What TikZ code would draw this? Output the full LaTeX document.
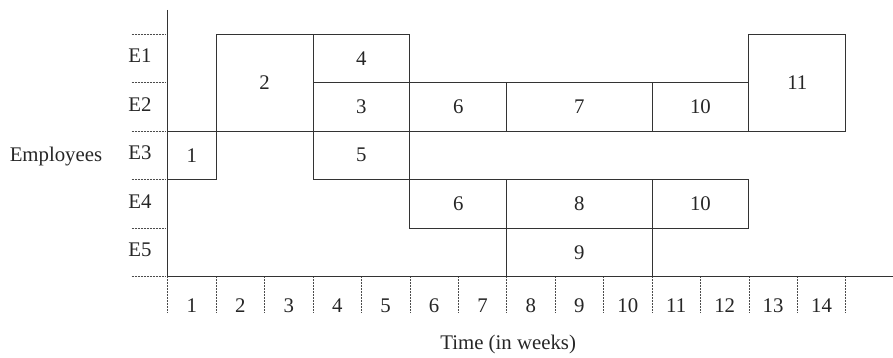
\documentclass[tikz,border=0pt]{standalone}
\usepackage{fontspec}
\setmainfont{Liberation Serif}
\begin{document}
\begin{tikzpicture}[x=1pt,y=-1pt,
  every node/.style={font=\fontsize{20.8}{24}\selectfont, text=black!85, inner sep=0pt},
  task/.style 2 args={draw=black!80, line width=0.9pt, minimum width=#1*48.43pt, minimum height=#2*48.5pt},
  axisline/.style={draw=black!80, line width=0.9pt},
  tickline/.style={draw=black!70, line width=0.7pt, dash pattern=on 0.7pt off 0.8pt}]
\useasboundingbox (0,0) rectangle (893,358);
\begin{scope}[shift={(167.7,34)}, x=48.43pt, y=-48.5pt]
  % ticks
  \foreach \r in {0,...,5} {
    \coordinate (ra\r) at (-0.743,\r);
    \coordinate (rb\r) at (-0.041,\r);
    \draw[tickline] (ra\r) -- (rb\r);
  }
  \foreach \c in {0,...,14} {
    \coordinate (ca\c) at (\c,5.02);
    \coordinate (cb\c) at (\c,5.742);
    \draw[tickline] (ca\c) -- (cb\c);
  }
  % tasks
  \node[task={1}{1}] (t1) at (0.5,2.5) {1};
  \node[task={2}{2}] (t2) at (2,1) {2};
  \node[task={2}{1}] (t4) at (4,0.5) {4};
  \node[task={2}{1}] (t3) at (4,1.5) {3};
  \node[task={2}{1}] (t5) at (4,2.5) {5};
  \node[task={2}{1}] (t6a) at (6,1.5) {6};
  \node[task={3}{1}] (t7) at (8.5,1.5) {7};
  \node[task={2}{1}] (t10a) at (11,1.5) {10};
  \node[task={2}{2}] (t11) at (13,1) {11};
  \node[task={2}{1}] (t6b) at (6,3.5) {6};
  \node[task={3}{1}] (t8) at (8.5,3.5) {8};
  \node[task={2}{1}] (t10b) at (11,3.5) {10};
  \node[task={3}{1}] (t9) at (8.5,4.5) {9};
  % axes
  \coordinate (ytop) at (0,-0.495);
  \coordinate (orig) at (0,5);
  \coordinate (xend) at (14.98,5);
  \draw[axisline] (ytop) -- (orig) -- (xend);
  % labels
  \foreach \r/\t in {0/E1,1/E2,2/E3,3/E4,4/E5}
    \node (e\r) at (-0.571,\r+0.45) {\t};
  \foreach \c in {1,...,14}
    \node (w\c) at (\c-0.5,5.608) {\c};
  \node (emp) at (-2.307,2.52) {Employees};
  \node (time) at (7.03,6.41) {Time (in weeks)};
\end{scope}
\end{tikzpicture}
\end{document}
